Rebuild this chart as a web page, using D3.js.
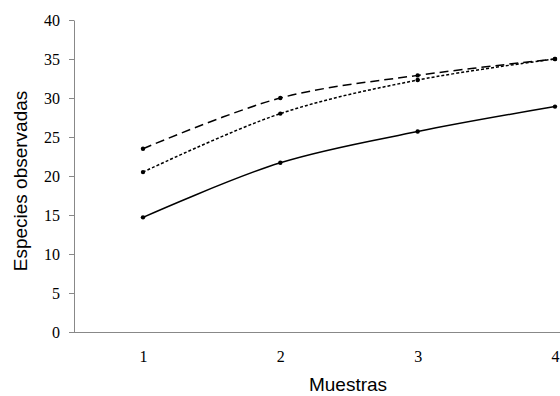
<!DOCTYPE html>
<meta charset="utf-8">
<script src="https://d3js.org/d3.v7.min.js"></script>
<style>
  body { margin: 0; background: #fff; }
  .tick text { font-family: 'Liberation Serif', 'Times New Roman', serif; font-size: 16px; fill: #000; }
  .title { font-family: 'Liberation Sans', Arial, sans-serif; font-size: 19px; fill: #000; }
</style>
<body>
<div id="chart"></div>
<script>
// data
var muestras = [1, 2, 3, 4];
var observadas = [14.7, 21.7, 25.7, 28.9];
var estimador1 = [20.5, 28.0, 32.3, 35.0];   // short dashes
var estimador2 = [23.5, 30.0, 32.9, 35.0];   // long dashes
var yTicks = [0, 5, 10, 15, 20, 25, 30, 35, 40];

var width = 560, height = 396;
var svg = d3.select("#chart").append("svg")
    .attr("width", width)
    .attr("height", height);

var x = d3.scaleLinear().domain([1, 4]).range([143, 555]);
var y = d3.scaleLinear().domain([0, 40]).range([332, 20]);

// Y axis
var yAxis = svg.append("g")
    .attr("transform", "translate(74,0)")
    .call(d3.axisLeft(y).tickValues(yTicks).tickSize(5).tickSizeOuter(0).tickPadding(9));
yAxis.select(".domain").attr("stroke", "#888");
yAxis.selectAll(".tick line").attr("stroke", "#888");

// X axis (no tick marks)
var xAxis = svg.append("g")
    .attr("transform", "translate(0,332)")
    .call(d3.axisBottom(x).tickValues(muestras).tickFormat(d3.format("d")).tickSize(0).tickPadding(19));
xAxis.select(".domain").attr("d", "M74,0.5H560").attr("stroke", "#888");

var line = d3.line()
    .x(function(d, i) { return x(muestras[i]); })
    .y(function(d) { return y(d); })
    .curve(d3.curveCatmullRom.alpha(0.5));

var series = [
  { values: observadas, dash: null },
  { values: estimador1, dash: "3,2" },
  { values: estimador2, dash: "9,5" }
];

series.forEach(function(s) {
  svg.append("path")
    .datum(s.values)
    .attr("d", line)
    .attr("fill", "none")
    .attr("stroke", "#000")
    .attr("stroke-width", 1.5)
    .attr("stroke-dasharray", s.dash);
  svg.selectAll(null)
    .data(s.values)
    .enter().append("circle")
      .attr("cx", function(d, i) { return x(muestras[i]); })
      .attr("cy", function(d) { return y(d); })
      .attr("r", 2.2)
      .attr("fill", "#000");
});

// axis titles
svg.append("text")
    .attr("class", "title")
    .attr("text-anchor", "middle")
    .attr("transform", "translate(27,181) rotate(-90)")
    .text("Especies observadas");

svg.append("text")
    .attr("class", "title")
    .attr("text-anchor", "middle")
    .attr("x", 348)
    .attr("y", 391)
    .text("Muestras");
</script>
</body>
